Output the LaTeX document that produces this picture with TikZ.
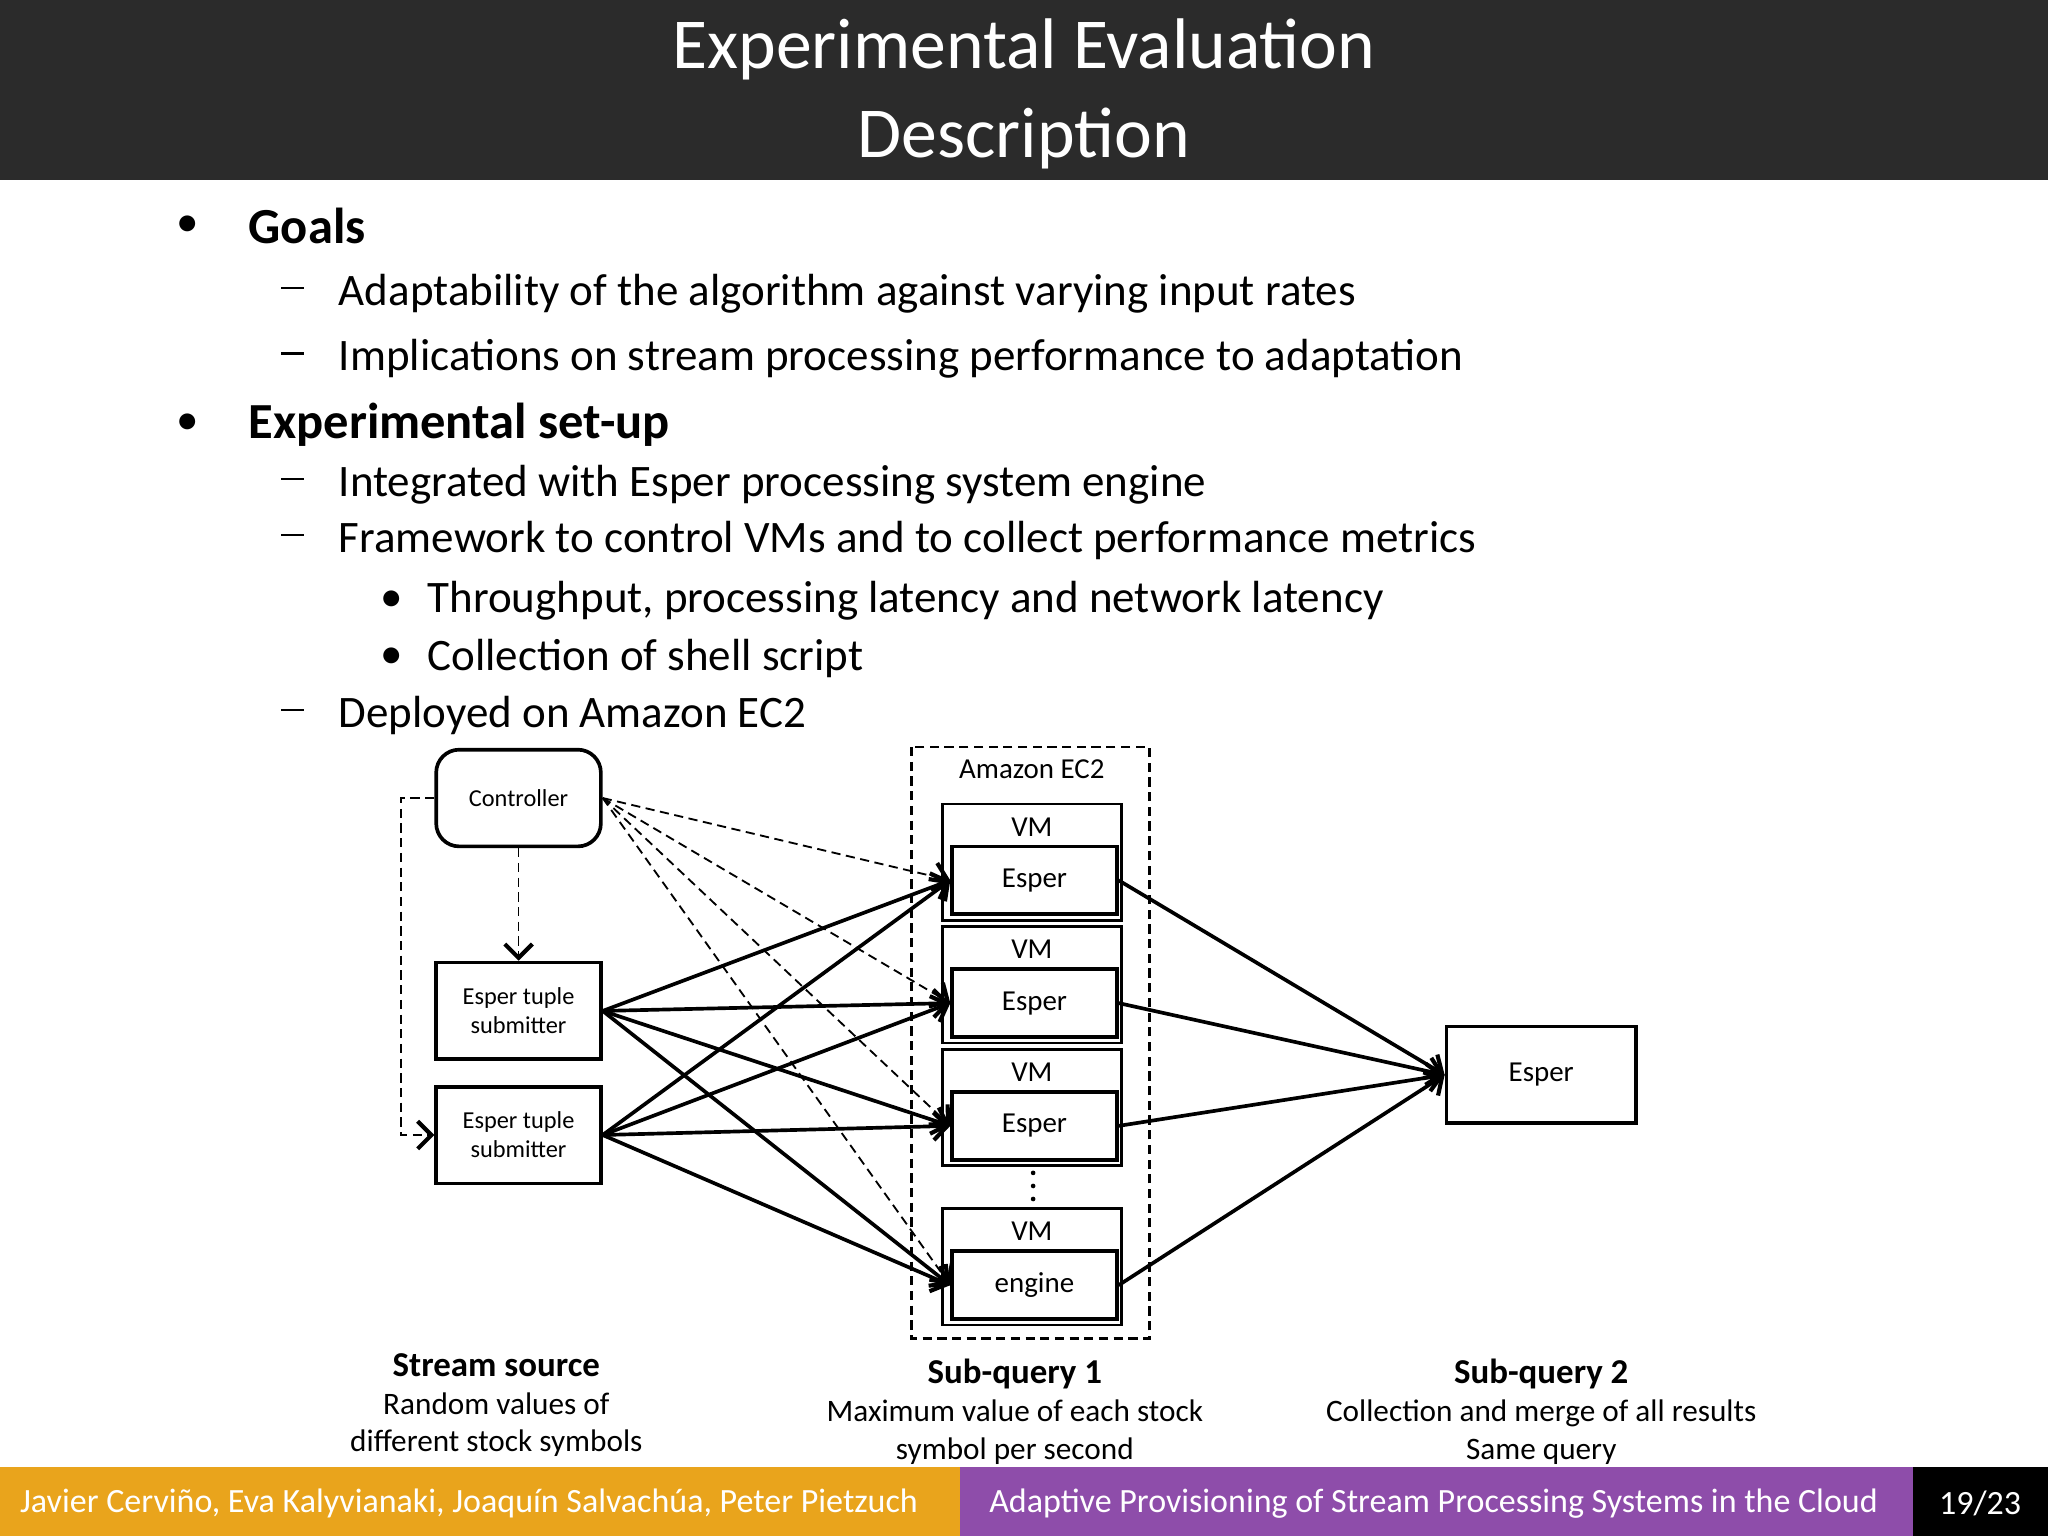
\documentclass[tikz,border=0pt]{standalone}
\usepackage{fontspec}
\setmainfont{Carlito}
\usetikzlibrary{positioning, calc, arrows.meta}

\tikzset{
	box/.style={draw, line width=0.8pt, minimum width=1.26cm, minimum height=0.74cm, align=center, font=\fontsize{5.3}{6.3}\selectfont},
	inner/.style={draw, line width=0.8pt, minimum width=1.26cm, minimum height=0.52cm, font=\fontsize{6.3}{7}\selectfont},
	vm/.style={draw, line width=0.6pt, minimum width=1.37cm, minimum height=0.89cm},
	flow/.style={-{Straight Barb[length=3pt,width=6pt,line width=0.9pt]}, line width=0.8pt},
	ctrl/.style={-{Straight Barb[length=3pt,width=6pt,line width=0.9pt]}, dash pattern=on 2pt off 1.2pt, line width=0.4pt},
	txt/.style={anchor=west, font=\fontsize{9.8}{11}\selectfont},
	head/.style={anchor=west, font=\fontsize{11}{13}\selectfont\bfseries},
	caption/.style={align=center, font=\fontsize{6.8}{8.2}\selectfont}
}
\newcommand{\dashmark}{\rule[0.25em]{0.5em}{0.5pt}}

\begin{document}
\begin{tikzpicture}[x=0.01cm, y=-0.01cm]
	\useasboundingbox (0,0) rectangle (1568,1176);
	\definecolor{bar}{HTML}{2B2B2B}
	\definecolor{gold}{HTML}{E9A41C}
	\definecolor{plum}{HTML}{8E4DAA}

	% title
	\fill[bar] (0,0) rectangle (1568,138);
	\node[white, align=center, font=\fontsize{15.6}{19.4}\selectfont] (title) at (784,72) {Experimental Evaluation\\Description};

	% bullets
	\node[txt] (b1) at (123,173) {•};
	\node[head] (goals) at (178,173) {Goals};
	\node[txt] (d1) at (203,225) {\dashmark};
	\node[txt] (g1) at (247,225) {Adaptability of the algorithm against varying input rates};
	\node[txt] (d2) at (203,275) {\dashmark};
	\node[txt] (g2) at (247,275) {Implications on stream processing performance to adaptation};
	\node[txt] (b2) at (123,325) {•};
	\node[head] (setup) at (178,325) {Experimental set-up};
	\node[txt] (d3) at (203,371) {\dashmark};
	\node[txt] (s1) at (247,371) {Integrated with Esper processing system engine};
	\node[txt] (d4) at (203,414) {\dashmark};
	\node[txt] (s2) at (247,414) {Framework to control VMs and to collect performance metrics};
	\node[txt] (b3) at (279,460) {•};
	\node[txt] (s3) at (315,460) {Throughput, processing latency and network latency};
	\node[txt] (b4) at (279,504) {•};
	\node[txt] (s4) at (315,504) {Collection of shell script};
	\node[txt] (d5) at (203,548) {\dashmark};
	\node[txt] (s5) at (247,548) {Deployed on Amazon EC2};

	% diagram
	\node[box, rounded corners=5pt] (ctl) at (397,611) {Controller};
	\node[box] (sub1) at (397,774) {Esper tuple\\submitter};
	\node[box] (sub2) at (397,869) {Esper tuple\\submitter};
	\draw[dash pattern=on 2pt off 1.2pt, line width=0.6pt] (698,572) rectangle (880,1025);
	\node[font=\fontsize{6.3}{7}\selectfont] (ec2) at (790,589) {Amazon EC2};
	\foreach \n/\y/\t in {1/660/Esper, 2/754/Esper, 3/848/Esper, 4/970/engine} {
		\node[vm] (vm\n) at (790,\y) {};
		\node[font=\fontsize{6.3}{7}\selectfont] (vml\n) at (790,\y-27) {VM};
		\node[inner] (e\n) at (792,\y+14) {\t};
	}
	\fill (791,898) circle (1.8) (791,908) circle (1.8) (791,918) circle (1.8);
	\node[box, minimum width=1.45cm, font=\fontsize{6.3}{7}\selectfont] (merge) at (1180,823) {Esper};

	\foreach \n in {1,...,4} {
		\draw[flow] (sub1.east) -- (e\n.west);
		\draw[flow] (sub2.east) -- (e\n.west);
		\draw[flow] (e\n.east) -- (merge.west);
		\draw[ctrl] (ctl.east) -- (e\n.west);
	}
	\draw[ctrl] (ctl.south) -- (sub1.north);
	\coordinate (c1) at (307,611);
	\coordinate (c2) at (307,869);
	\draw[ctrl] (ctl.west) -- (c1) -- (c2) -- (sub2.west);

	% captions
	\node[caption] (cap1) at (380,1076) {\textbf{\fontsize{7.6}{8.2}\selectfont Stream source}\\Random values of\\different stock symbols};
	\node[caption] (cap2) at (777,1081) {\textbf{\fontsize{7.6}{8.2}\selectfont Sub-query 1}\\Maximum value of each stock\\symbol per second};
	\node[caption] (cap3) at (1180,1081) {\textbf{\fontsize{7.6}{8.2}\selectfont Sub-query 2}\\Collection and merge of all results\\Same query};

	% footer
	\fill[gold] (0,1123) rectangle (735,1176);
	\fill[plum] (735,1123) rectangle (1465,1176);
	\fill[black] (1465,1123) rectangle (1568,1176);
	\node[white, anchor=west, font=\fontsize{7.4}{8}\selectfont] (authors) at (3,1151) {Javier Cerviño, Eva Kalyvianaki, Joaquín Salvachúa, Peter Pietzuch};
	\node[white, anchor=west, font=\fontsize{7.4}{8}\selectfont] (talk) at (745,1151) {Adaptive Provisioning of Stream Processing Systems in the Cloud};
	\node[white, font=\fontsize{7.4}{8}\selectfont] (page) at (1516,1151) {19/23};
\end{tikzpicture}
\end{document}
